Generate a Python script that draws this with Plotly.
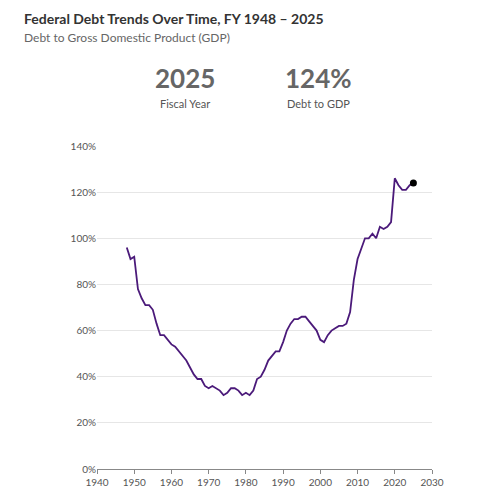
import plotly.graph_objects as go

years = list(range(1948, 2026))
debt_pct = [96, 91, 92, 78, 74, 71, 71, 69, 63, 58, 58, 56, 54, 53, 51, 49, 47, 44,
            41, 39, 39, 36, 35, 36, 35, 34, 32, 33, 35, 35, 34, 32, 33, 32, 34, 39,
            40, 43, 47, 49, 51, 51, 55, 60, 63, 65, 65, 66, 66, 64, 62, 60, 56, 55,
            58, 60, 61, 62, 62, 63, 68, 82, 91, 96, 100, 100, 102, 100, 105, 104,
            105, 107, 126, 123, 121, 121, 123, 124]

# plot box in page pixels (page has 8px body offset)
L, R, T, B = 89, 424, 138, 461


def px(x):
    return (x - 8 - L) / (R - L)


def py(y):
    return (B - (y - 8)) / (B - T)


fig = go.Figure()
fig.add_trace(go.Scatter(x=years, y=debt_pct, mode="lines",
                         line=dict(color="#4b1a7a", width=1.8), hoverinfo="skip"))
fig.add_trace(go.Scatter(x=[years[-1]], y=[debt_pct[-1]], mode="markers",
                         marker=dict(color="black", size=7)))

grey = "#555555"
fig.update_layout(
    width=500, height=500, showlegend=False,
    paper_bgcolor="white", plot_bgcolor="white",
    margin=dict(l=L, r=500 - R, t=T, b=500 - B),
    font=dict(family="Lato, Open Sans, sans-serif", color=grey, size=10),
    xaxis=dict(range=[1940, 2030], dtick=10, showgrid=False, showline=True,
               linecolor="#888", ticks="outside", ticklen=4, tickcolor="#888",
               zeroline=False),
    yaxis=dict(range=[0, 140], dtick=20, ticksuffix="%", gridcolor="#e6e6e6",
               showline=False, zeroline=True, zerolinecolor="#888"),
)
fig.add_annotation(text="<b>Federal Debt Trends Over Time, FY 1948 – 2025</b>",
                   xref="paper", yref="paper", x=px(22), y=py(18), xanchor="left",
                   yanchor="middle", showarrow=False, font=dict(size=14, color="#333"))
fig.add_annotation(text="Debt to Gross Domestic Product (GDP)", xref="paper",
                   yref="paper", x=px(22), y=py(37), xanchor="left", yanchor="middle",
                   showarrow=False, font=dict(size=12, color="#666"))
for cx, big, small in [(185, "2025", "Fiscal Year"), (318, "124%", "Debt to GDP")]:
    fig.add_annotation(text="<b>%s</b>" % big, xref="paper", yref="paper",
                       x=px(cx), y=py(78), xanchor="center", yanchor="middle",
                       showarrow=False, font=dict(size=26, color="#666"))
    fig.add_annotation(text=small, xref="paper", yref="paper", x=px(cx), y=py(103),
                       xanchor="center", yanchor="middle", showarrow=False,
                       font=dict(size=11, color="#555"))
fig.write_html("out.html")
